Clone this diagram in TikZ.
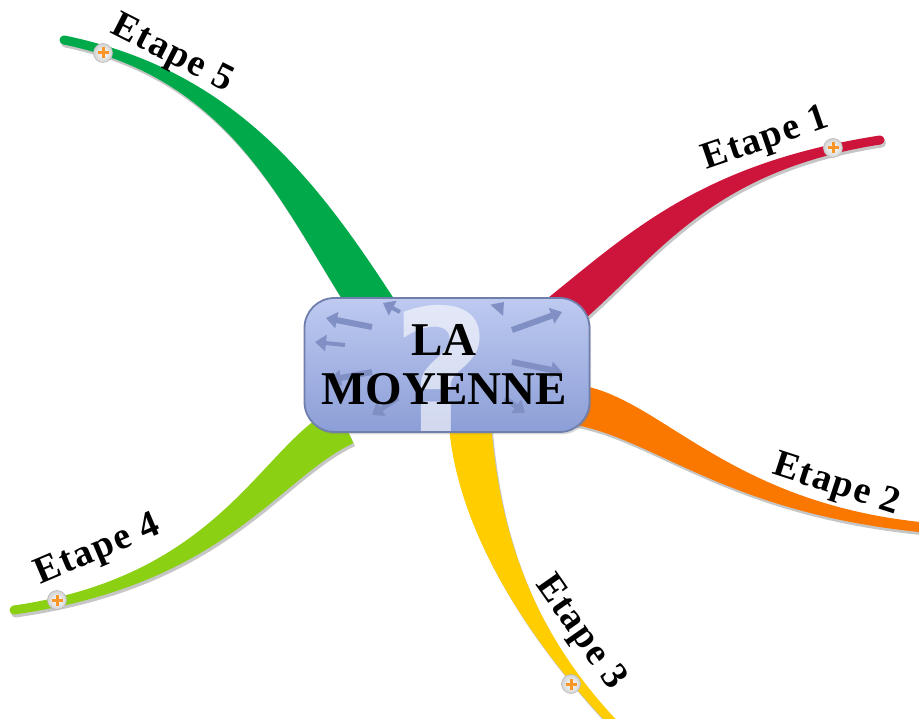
\documentclass[tikz,border=0pt]{standalone}
\usepackage{fontspec}
\setmainfont{Liberation Serif}
\newfontfamily\etapefont[LetterSpace=4]{Liberation Serif}
\newfontfamily\interrofont{DejaVu Sans}
\usetikzlibrary{calc,arrows.meta,shadows}

\definecolor{vertE}{RGB}{0,170,75}
\definecolor{rougeE}{RGB}{205,20,58}
\definecolor{orangeE}{RGB}{250,120,0}
\definecolor{jauneE}{RGB}{255,205,0}
\definecolor{limeE}{RGB}{140,208,20}
\definecolor{bleuhaut}{RGB}{190,202,240}
\definecolor{bleubas}{RGB}{140,158,215}
\definecolor{bordbleu}{RGB}{112,126,172}
\definecolor{fleche}{RGB}{128,143,196}
\definecolor{plusor}{RGB}{250,150,40}

% tapering branch: name, colour, half-width at start, half-width at end
\newcommand\branche[4]{%
  \coordinate (#1-p0) at ($(#1-s)!#3!90:(#1-c1)$);
  \coordinate (#1-q0) at ($(#1-s)!#3!-90:(#1-c1)$);
  \coordinate (#1-p3) at ($(#1-e)!#4!-90:(#1-c2)$);
  \coordinate (#1-q3) at ($(#1-e)!#4!90:(#1-c2)$);
  \coordinate (#1-p1) at ($(#1-c1)+(#1-p0)-(#1-s)$);
  \coordinate (#1-q1) at ($(#1-c1)+(#1-q0)-(#1-s)$);
  \coordinate (#1-p2) at ($(#1-c2)+(#1-p3)-(#1-e)$);
  \coordinate (#1-q2) at ($(#1-c2)+(#1-q3)-(#1-e)$);
  \fill[ombre] (#1-p0) .. controls (#1-p1) and (#1-p2) .. (#1-p3)
    -- (#1-q3) .. controls (#1-q2) and (#1-q1) .. (#1-q0) -- cycle;
  \fill[ombre] (#1-e) circle[radius=#4];
  \fill[#2] (#1-p0) .. controls (#1-p1) and (#1-p2) .. (#1-p3)
    -- (#1-q3) .. controls (#1-q2) and (#1-q1) .. (#1-q0) -- cycle;
  \fill[#2] (#1-e) circle[radius=#4];
}

\begin{document}
\begin{tikzpicture}[x=1pt,y=-1pt,
  ombre/.style={gray!45,transform canvas={shift={(1.5pt,-3pt)}}},
  boite/.style={rectangle,rounded corners=30pt,minimum width=285pt,minimum height=134pt,
                draw=bordbleu,line width=1.8pt,top color=bleuhaut,bottom color=bleubas,
                drop shadow={opacity=0.3,shadow xshift=1.5pt,shadow yshift=-2.5pt}},
  radar/.style={-{Triangle[length=11pt,width=16pt]},draw=fleche,line width=#1},
  interro/.style={font=\interrofont\bfseries\fontsize{170}{170}\selectfont,
                  text=white,text opacity=0.6,inner sep=0pt},
  titre/.style={font=\bfseries\fontsize{47}{49}\selectfont,align=center,inner sep=0pt},
  etape/.style={font=\etapefont\bfseries\fontsize{38}{38}\selectfont,inner sep=0pt},
  plus/.style={circle,minimum size=19pt,inner sep=0pt,draw=gray!55,line width=0.6pt,
               inner color=white,outer color=gray!35,
               path picture={\draw[plusor,line width=3pt]
                 ([yshift=-5.5pt]path picture bounding box.center) -- ([yshift=5.5pt]path picture bounding box.center)
                 ([xshift=-5.5pt]path picture bounding box.center) -- ([xshift=5.5pt]path picture bounding box.center);}}
]
  \useasboundingbox (0,0) rectangle (919,719);
  \clip (0,0) rectangle (919,719);

  % branches
  \coordinate (b5-s) at (375,310); \coordinate (b5-c1) at (300,195);
  \coordinate (b5-c2) at (235,75);  \coordinate (b5-e) at (64,40);
  \coordinate (b1-s) at (555,318); \coordinate (b1-c1) at (640,250);
  \coordinate (b1-c2) at (700,168); \coordinate (b1-e) at (880,140);
  \coordinate (b2-s) at (578,405); \coordinate (b2-c1) at (660,420);
  \coordinate (b2-c2) at (730,510); \coordinate (b2-e) at (930,528);
  \coordinate (b3-s) at (470,425); \coordinate (b3-c1) at (478,520);
  \coordinate (b3-c2) at (520,625); \coordinate (b3-e) at (615,725);
  \coordinate (b4-s) at (345,425); \coordinate (b4-c1) at (270,460);
  \coordinate (b4-c2) at (225,580); \coordinate (b4-e) at (14,610);
  \branche{b5}{vertE}{22pt}{4.5pt}
  \branche{b1}{rougeE}{20pt}{4.5pt}
  \branche{b2}{orangeE}{20pt}{5pt}
  \branche{b3}{jauneE}{21pt}{4.5pt}
  \branche{b4}{limeE}{20pt}{4.5pt}

  % centre
  \node[boite] (moy) at (447,365) {};
  \foreach \xa/\ya/\xb/\yb/\w in {-75/-38/-121/-47/6pt, -102/-20/-132/-23/4pt,
      -75/7/-117/15/6pt, -49/33/-75/50/5pt, -47/-53/-64/-62/4pt, 50/-55/57/-63/3pt,
      65/-35/115/-53/6pt, 65/-3/115/7/6pt, 58/33/78/48/5pt}
    \draw[radar=\w] ($(moy)+(\xa,\ya)$) -- ($(moy)+(\xb,\yb)$);
  \node[interro] (qm) at (442,368) {?};
  \node[titre] (titre) at (444,365) {LA\\MOYENNE};

  % ends
  \node[plus] (p5) at (103,53) {};
  \node[plus] (p1) at (833,148) {};
  \node[plus] (p3) at (571,684) {};
  \node[plus] (p4) at (57,600) {};

  \node[etape,rotate=-27] (e5) at (172,55) {Etape 5};
  \node[etape,rotate=19] (e1) at (766,140) {Etape 1};
  \node[etape,rotate=-18] (e2) at (836,486) {Etape 2};
  \node[etape,rotate=-55] (e3) at (580,633) {Etape 3};
  \node[etape,rotate=23] (e4) at (98,551) {Etape 4};
\end{tikzpicture}
\end{document}
